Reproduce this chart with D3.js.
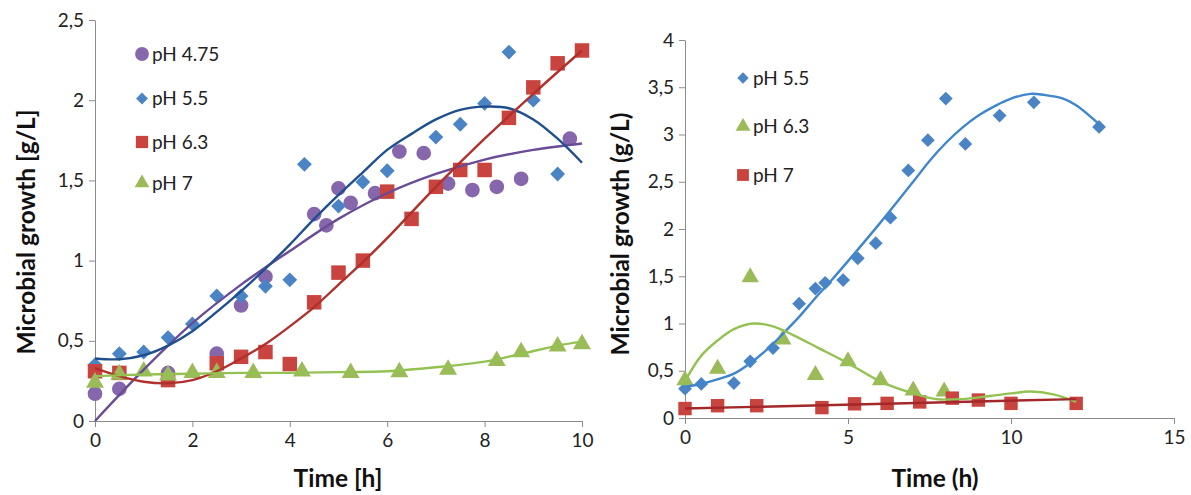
<!DOCTYPE html>
<html>
<head>
<meta charset="utf-8">
<script src="https://cdn.jsdelivr.net/npm/d3@7"></script>
<style>
  body { margin: 0; background: #fff; }
  svg { display: block; font-family: Lato, "Open Sans", sans-serif; }
  .axis .domain, .axis .tick line { stroke: #8c8c8c; }
  .axis text { font-size: 19px; fill: #222; font-family: Lato, sans-serif; }
  .axis-title { font-size: 24.5px; font-weight: 700; fill: #111; }
  .legend text { font-size: 19px; fill: #222; }
</style>
</head>
<body>
<svg id="chart" width="1191" height="495"></svg>
<script>
// ---- left panel: [time h, growth g/L]
const leftPh475 = [[0,0.17],[0.5,0.20],[1.5,0.30],[2.5,0.42],[3,0.72],[3.5,0.90],[4.5,1.29],[4.75,1.22],[5,1.45],[5.25,1.36],[5.75,1.42],[6.25,1.68],[6.75,1.67],[7.25,1.48],[7.75,1.44],[8.25,1.46],[8.75,1.51],[9.75,1.76]];
const leftPh55 = [[0,0.35],[0.5,0.42],[1,0.43],[1.5,0.52],[2,0.605],[2.5,0.78],[3,0.78],[3.5,0.84],[4,0.88],[4.3,1.60],[5,1.34],[5.5,1.49],[6,1.56],[7,1.77],[7.5,1.85],[8,1.98],[8.5,2.30],[9,2.0],[9.5,1.54]];
const leftPh63 = [[0,0.31],[0.5,0.30],[1.5,0.255],[2.5,0.36],[3,0.40],[3.5,0.43],[4,0.355],[4.5,0.74],[5,0.925],[5.5,1.0],[6,1.43],[6.5,1.26],[7,1.46],[7.5,1.565],[8,1.565],[8.5,1.89],[9,2.08],[9.5,2.23],[10,2.31]];
const leftPh7 = [[0,0.24],[0.5,0.29],[1,0.31],[1.5,0.285],[2,0.30],[2.5,0.30],[3.25,0.30],[4.25,0.31],[5.25,0.30],[6.25,0.305],[7.25,0.32],[8.25,0.375],[8.75,0.43],[9.5,0.465],[10,0.48]];

// trendlines
const leftFit475 = [[0,0],[1,0.32],[2,0.61],[3,0.85],[4,1.06],[5,1.26],[6,1.42],[7,1.54],[8,1.63],[9,1.69],[10,1.73]];
const leftFit55 = [[0,0.39],[0.5,0.385],[1,0.41],[1.5,0.47],[2,0.56],[2.5,0.68],[3,0.81],[3.5,0.95],[4,1.10],[4.5,1.26],[5,1.41],[5.5,1.55],[6,1.69],[6.5,1.79],[7,1.88],[7.5,1.94],[8,1.96],[8.5,1.95],[9,1.88],[9.5,1.76],[10,1.61]];
const leftFit63 = [[0,0.33],[0.5,0.28],[1,0.245],[1.5,0.235],[2,0.255],[2.5,0.31],[3,0.39],[3.5,0.48],[4,0.59],[4.5,0.71],[5,0.85],[5.5,0.99],[6,1.14],[7,1.46],[8,1.76],[9,2.04],[10,2.31]];
const leftFit7 = [[0,0.28],[1,0.29],[2,0.295],[3,0.30],[4,0.30],[5,0.305],[6,0.31],[7,0.335],[8,0.37],[8.7,0.415],[9.5,0.47],[10,0.495]];

// ---- right panel
const rightPh55 = [[0,0.31],[0.5,0.36],[1.5,0.37],[2,0.60],[2.7,0.74],[3.5,1.21],[4,1.37],[4.3,1.43],[4.85,1.46],[5.3,1.69],[5.85,1.85],[6.3,2.12],[6.85,2.62],[7.45,2.94],[8,3.38],[8.6,2.90],[9.65,3.20],[10.7,3.34],[12.7,3.08]];
const rightPh63 = [[0,0.40],[1,0.52],[2,1.49],[3,0.83],[4,0.455],[5,0.60],[6,0.40],[7,0.29],[7.95,0.28]];
const rightPh7 = [[0,0.10],[1,0.13],[2.2,0.13],[4.2,0.11],[5.2,0.15],[6.2,0.155],[7.2,0.17],[8.2,0.21],[9,0.19],[10,0.155],[12,0.155]];

const rightFit55 = [[0,0.33],[0.5,0.36],[1,0.41],[1.5,0.47],[2,0.58],[2.5,0.72],[3,0.89],[3.5,1.07],[4,1.27],[4.5,1.46],[5,1.66],[6,2.07],[7,2.50],[7.5,2.72],[8,2.91],[8.5,3.07],[9,3.20],[9.5,3.30],[10,3.38],[10.6,3.43],[11,3.42],[11.6,3.38],[12,3.31],[12.7,3.11]];
const rightFit63 = [[0,0.39],[0.5,0.66],[1,0.82],[1.5,0.94],[2.1,1.0],[2.7,0.97],[3.3,0.88],[4.1,0.74],[5,0.58],[6,0.385],[7,0.26],[7.7,0.20],[8.5,0.20],[9.3,0.23],[10,0.26],[10.6,0.28],[11.3,0.25],[12,0.17]];
const rightFit7 = [[0,0.10],[12,0.20]];

const leftXTicks = [0, 2, 4, 6, 8, 10];
const leftYTicks = [0, 0.5, 1, 1.5, 2, 2.5];
const rightXTicks = [0, 5, 10, 15];
const rightYTicks = [0, 0.5, 1, 1.5, 2, 2.5, 3, 3.5, 4];

const COL = {
  purple: '#8767ac', blue: '#4a84c4', red: '#c9443f', green: '#9bbb59',
  purpleLine: '#6a4c96', navyLine: '#1f4f8e', redLine: '#b0302c', greenLine: '#93c253',
  blueLine: '#3f86cc', darkRedLine: '#a3282a'
};

const svg = d3.select('#chart');
const commaFmt = d => String(d).replace('.', ',');

// diamond = square turned 45 degrees (Excel style), not d3's tall diamond
const symbols = {
  circle: d3.symbol().type(d3.symbolCircle),
  diamond: d3.symbol().type(d3.symbolSquare),
  square: d3.symbol().type(d3.symbolSquare),
  triangle: d3.symbol().type(d3.symbolTriangle)
};
const rot = shape => shape === 'diamond' ? ' rotate(45)' : '';

function drawPanel(cfg) {
  const g = svg.append('g');
  const x = d3.scaleLinear().domain(cfg.xDomain).range(cfg.xRange);
  const y = d3.scaleLinear().domain(cfg.yDomain).range(cfg.yRange);

  g.append('g')
    .attr('class', 'axis')
    .attr('transform', `translate(0,${cfg.yRange[0]})`)
    .call(d3.axisBottom(x).tickValues(cfg.xTicks).tickSize(6).tickPadding(7).tickSizeOuter(0));

  g.append('g')
    .attr('class', 'axis')
    .attr('transform', `translate(${cfg.xRange[0]},0)`)
    .call(d3.axisLeft(y).tickValues(cfg.yTicks).tickFormat(commaFmt).tickSize(6).tickPadding(5).tickSizeOuter(0));

  // Axis titles
  g.append('text')
    .attr('class', 'axis-title')
    .attr('text-anchor', 'middle')
    .attr('x', cfg.xTitlePos[0]).attr('y', cfg.xTitlePos[1])
    .text(cfg.xTitle);

  g.append('text')
    .attr('class', 'axis-title')
    .attr('text-anchor', 'middle')
    .attr('transform', `translate(${cfg.yTitlePos[0]},${cfg.yTitlePos[1]}) rotate(-90)`)
    .text(cfg.yTitle);

  // Markers
  cfg.series.forEach(s => {
    g.selectAll(null)
      .data(s.data)
      .enter()
      .append('path')
      .attr('d', symbols[s.shape].size(s.size)())
      .attr('transform', d => `translate(${x(d[0])},${y(d[1])})${rot(s.shape)}`)
      .attr('fill', s.color);
  });

  // Trendlines
  const line = d3.line()
    .x(d => x(d[0]))
    .y(d => y(d[1]))
    .curve(d3.curveCatmullRom.alpha(0.5));

  cfg.fits.forEach(f => {
    g.append('path')
      .datum(f.data)
      .attr('d', line)
      .attr('fill', 'none')
      .attr('stroke', f.color)
      .attr('stroke-width', 2.4);
  });

  // Legend
  const lg = g.append('g').attr('class', 'legend');
  cfg.series.forEach((s, i) => {
    const ly = cfg.legendPos[1] + i * cfg.legendGap[i];
    lg.append('path')
      .attr('d', symbols[s.shape].size(s.legendSize)())
      .attr('transform', `translate(${cfg.legendPos[0]},${ly})${rot(s.shape)}`)
      .attr('fill', s.color);
    lg.append('text')
      .attr('x', cfg.legendPos[0] + 10)
      .attr('y', ly)
      .attr('dy', '0.35em')
      .text(s.name);
  });
}

drawPanel({
  xDomain: [0, 10], xRange: [95, 582],
  yDomain: [0, 2.5], yRange: [421, 20],
  xTicks: leftXTicks, yTicks: leftYTicks,
  xTitle: 'Time [h]', xTitlePos: [338, 487],
  yTitle: 'Microbial growth [g/L]', yTitlePos: [35, 232],
  legendPos: [142, 54], legendGap: [0, 44.5, 44, 43],
  series: [
    { name: 'pH 4.75', data: leftPh475, shape: 'circle', color: COL.purple, size: 170, legendSize: 150 },
    { name: 'pH 5.5', data: leftPh55, shape: 'diamond', color: COL.blue, size: 110, legendSize: 70 },
    { name: 'pH 6.3', data: leftPh63, shape: 'square', color: COL.red, size: 210, legendSize: 150 },
    { name: 'pH 7', data: leftPh7, shape: 'triangle', color: COL.green, size: 140, legendSize: 95 }
  ],
  fits: [
    { data: leftFit475, color: COL.purpleLine },
    { data: leftFit55, color: COL.navyLine },
    { data: leftFit63, color: COL.redLine },
    { data: leftFit7, color: COL.greenLine }
  ]
});

drawPanel({
  xDomain: [0, 15], xRange: [685, 1174],
  yDomain: [0, 4], yRange: [418, 40],
  xTicks: rightXTicks, yTicks: rightYTicks,
  xTitle: 'Time (h)', xTitlePos: [935, 487],
  yTitle: 'Microbial growth (g/L)', yTitlePos: [629, 234],
  legendPos: [743, 78], legendGap: [0, 48.5, 48.5],
  series: [
    { name: 'pH 5.5', data: rightPh55, shape: 'diamond', color: COL.blue, size: 95, legendSize: 65 },
    { name: 'pH 6.3', data: rightPh63, shape: 'triangle', color: COL.green, size: 130, legendSize: 95 },
    { name: 'pH 7', data: rightPh7, shape: 'square', color: COL.red, size: 180, legendSize: 140 }
  ],
  fits: [
    { data: rightFit55, color: COL.blueLine },
    { data: rightFit63, color: COL.greenLine },
    { data: rightFit7, color: COL.darkRedLine }
  ]
});
</script>
</body>
</html>
